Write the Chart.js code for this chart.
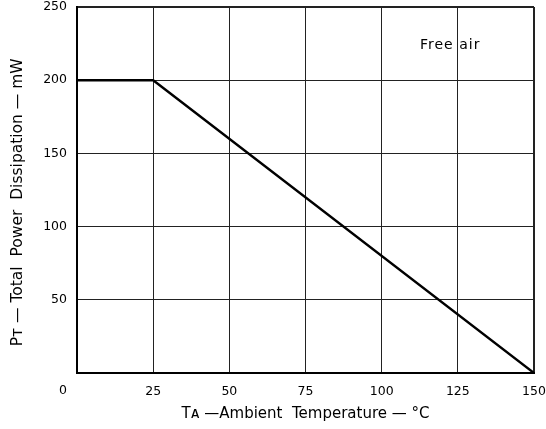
<!DOCTYPE html>
<html><head><meta charset="utf-8">
<script src="https://cdn.jsdelivr.net/npm/chart.js@4/dist/chart.umd.min.js"></script>
<style>html,body{margin:0;padding:0;background:#fff;}#wrap{width:546px;height:429px;}</style>
</head><body><div id="wrap"><canvas id="c" width="546" height="429"></canvas></div>
<script>
const temps = [0, 25, 150];
const power = [200, 200, 0];
const xTicks = [0, 25, 50, 75, 100, 125, 150];
const yTicks = [50, 100, 150, 200, 250];
const originLabel = '0';
const note = {text: 'Free air', x: 122.5, y: 224};
const xTitle = 'Tᴀ —Ambient  Temperature — °C';
const yTitle = 'Pᴛ — Total  Power  Dissipation — mW';

const FONT = 'DejaVu Sans';
const notePlugin = {
  id: 'note',
  afterDatasetsDraw(chart) {
    const {ctx, scales} = chart;
    ctx.save();
    ctx.fillStyle = '#000';
    ctx.textAlign = 'center';
    ctx.textBaseline = 'middle';
    ctx.font = '12.5px ' + FONT;
    // shared origin label, set at the lower-left corner of the frame
    ctx.fillText(originLabel, scales.x.left - 14, scales.y.bottom + 18);
    ctx.font = '14px ' + FONT;
    try { ctx.letterSpacing = '1px'; } catch (e) {}
    ctx.fillText(note.text, scales.x.getPixelForValue(note.x), scales.y.getPixelForValue(note.y));
    ctx.restore();
  }
};

new Chart(document.getElementById('c'), {
  type: 'line',
  data: {
    datasets: [{
      data: temps.map((t, i) => ({x: t, y: power[i]})),
      borderColor: '#000',
      borderWidth: 2.4,
      pointRadius: 0,
      tension: 0,
      fill: false
    }]
  },
  options: {
    responsive: false,
    animation: false,
    layout: {padding: {left: 0, right: 12, top: 7, bottom: 6}},
    plugins: {legend: {display: false}, tooltip: {enabled: false}},
    scales: {
      x: {
        type: 'linear', min: 0, max: 150,
        afterBuildTicks(s) { s.ticks = xTicks.map(v => ({value: v})); },
        afterFit(s) { s.height = 50; s.paddingLeft = 0; s.paddingRight = 0; },
        grid: {color: '#222', lineWidth: c => (c.tick && c.tick.value === 150 ? 2 : 1), drawTicks: false},
        border: {color: '#000', width: 2},
        ticks: {color: '#000', font: {family: FONT, size: 12.5}, padding: 11, maxRotation: 0,
          callback: v => (v === 0 ? '' : String(v))},
        title: {display: true, text: xTitle, color: '#000', font: {family: FONT, size: 15}, padding: {top: 0, bottom: 0}}
      },
      y: {
        type: 'linear', min: 0, max: 250,
        afterBuildTicks(s) { s.ticks = [0].concat(yTicks).map(v => ({value: v})); },
        afterFit(s) { s.width = 77; s.paddingTop = 0; s.paddingBottom = 0; },
        grid: {color: '#222', lineWidth: c => (c.tick && c.tick.value === 250 ? 2 : 1), drawTicks: false},
        border: {color: '#000', width: 2},
        ticks: {color: '#000', font: {family: FONT, size: 12.5}, padding: 10,
          callback: v => (v === 0 ? '' : String(v))},
        title: {display: true, text: yTitle + '\u00a0\u00a0\u00a0\u00a0\u00a0', color: '#000', font: {family: FONT, size: 15.5}, padding: {top: 9, bottom: 4}}
      }
    }
  },
  plugins: [notePlugin]
});
</script></body></html>
